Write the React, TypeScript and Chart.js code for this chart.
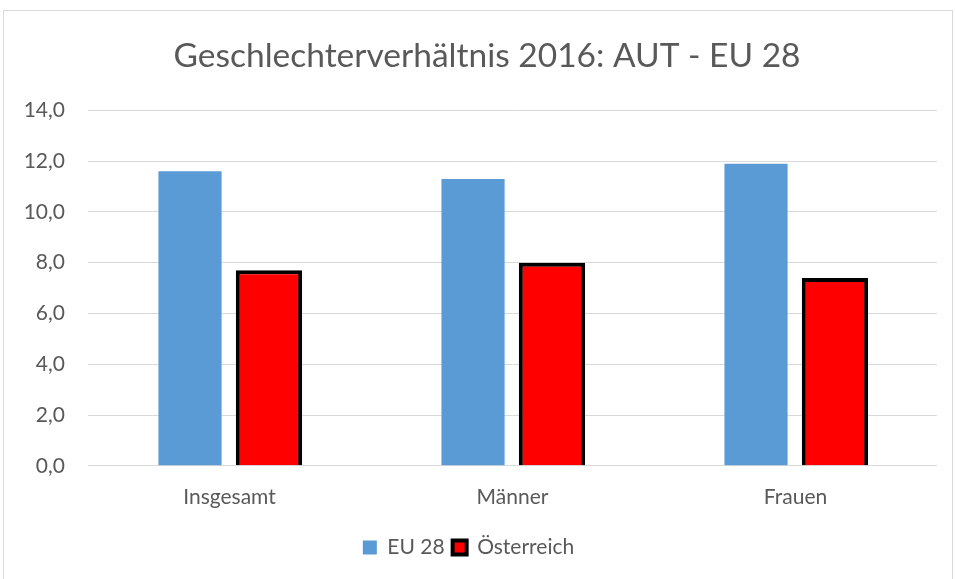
import React, { useEffect, useRef } from "react";
import { Chart, registerables } from "chart.js";

Chart.register(...registerables);

const categories = ["Insgesamt", "Männer", "Frauen"];
const eu28 = [11.6, 11.3, 11.9];
const oesterreich = [7.7, 8.0, 7.4];
const seriesNames = ["EU 28", "Österreich"];
const titleText = "Geschlechterverhältnis 2016: AUT - EU 28";

const FONT = "Lato, 'Open Sans', sans-serif";
const TEXT = "#595959";

const frame = {
  id: "frame",
  beforeDraw(chart: any) {
    const ctx = chart.ctx;
    ctx.save();
    ctx.fillStyle = "#ffffff";
    ctx.fillRect(0, 0, chart.width, chart.height);
    ctx.strokeStyle = "#D9D9D9";
    ctx.lineWidth = 1;
    ctx.strokeRect(3.5, 10.5, 949, 600);
    ctx.restore();
  },
  afterDraw(chart: any) {
    const ctx = chart.ctx;
    ctx.save();
    ctx.fillStyle = TEXT;
    ctx.font = `33.5px ${FONT}`;
    ctx.textAlign = "center";
    ctx.textBaseline = "middle";
    ctx.fillText(titleText, 487, 56);
    ctx.restore();
  },
};

export default function App() {
  const ref = useRef<HTMLCanvasElement>(null);
  useEffect(() => {
    document.body.style.margin = "0";
    const chart = new Chart(ref.current!, {
      type: "bar",
      data: {
        labels: categories,
        datasets: [
          {
            label: seriesNames[0],
            data: eu28,
            backgroundColor: "#5B9BD5",
            borderWidth: 0,
            barPercentage: 0.8,
          },
          {
            label: seriesNames[1],
            data: oesterreich,
            backgroundColor: "#FF0000",
            borderColor: "#000000",
            borderWidth: 4,
            barPercentage: 0.84,
          },
        ],
      },
      options: {
        animation: false,
        responsive: false,
        maintainAspectRatio: false,
        datasets: { bar: { categoryPercentage: 0.558 } },
        layout: { padding: { left: 0, right: 18, top: 0, bottom: 11 } },
        plugins: {
          title: {
            display: true,
            text: titleText,
            color: "rgba(0,0,0,0)",
            font: { family: FONT, size: 32, weight: "normal" },
            padding: { top: 37, bottom: 35 },
          },
          legend: {
            position: "bottom",
            labels: {
              color: TEXT,
              font: { family: FONT, size: 21 },
              boxWidth: 14,
              boxHeight: 14,
              padding: 8,
            },
          },
          tooltip: { enabled: false },
        },
        scales: {
          x: {
            grid: { display: false, drawTicks: false },
            border: { display: false },
            ticks: { color: TEXT, font: { family: FONT, size: 21 }, padding: 19 },
          },
          y: {
            min: 0,
            max: 14,
            grid: { color: "#D9D9D9", lineWidth: 1, drawTicks: false },
            border: { display: false },
            afterFit: (s: any) => { s.width = 88; },
            ticks: {
              stepSize: 2,
              color: TEXT,
              font: { family: FONT, size: 21 },
              padding: 23,
              callback: (v: any) => Number(v).toFixed(1).replace(".", ","),
            },
          },
        },
      },
      plugins: [frame],
    });
    return () => chart.destroy();
  }, []);
  return (
    <div style={{ width: 955, height: 579 }}>
      <canvas ref={ref} width={955} height={579} style={{ display: "block" }} />
    </div>
  );
}
